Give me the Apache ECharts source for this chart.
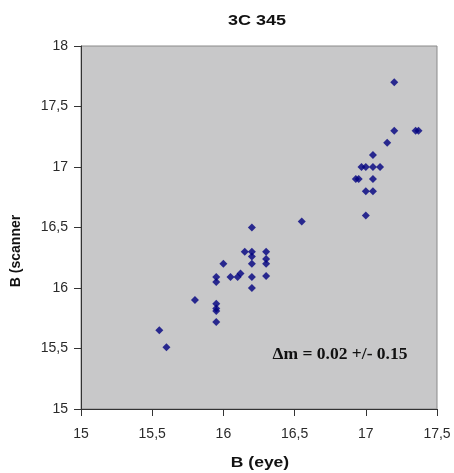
<!DOCTYPE html>
<html>
<head>
<meta charset="utf-8">
<script src="https://cdn.jsdelivr.net/npm/echarts@6/dist/echarts.min.js"></script>
<style>
  html, body { margin: 0; padding: 0; background: #fff; }
  #chart { width: 454px; height: 473px; }
</style>
</head>
<body>
<div id="chart"></div>
<script>
  // B magnitudes: eye estimate vs scanner
  var bEye = [
    15.55, 15.60, 15.80, 15.95, 15.95, 15.95, 15.95, 15.95, 15.95, 16.00,
    16.05, 16.10, 16.12, 16.15, 16.20, 16.20, 16.20, 16.20, 16.20, 16.20,
    16.30, 16.30, 16.30, 16.30, 16.55, 16.93, 16.95, 16.97, 17.00, 17.00,
    17.00, 17.05, 17.05, 17.05, 17.05, 17.10, 17.15, 17.20, 17.20, 17.35,
    17.37
  ]
  var bScanner = [
    15.65, 15.51, 15.90, 15.72, 15.81, 15.83, 15.87, 16.05, 16.09, 16.20,
    16.09, 16.09, 16.12, 16.30, 16.00, 16.09, 16.20, 16.26, 16.30, 16.50,
    16.10, 16.20, 16.24, 16.30, 16.55, 16.90, 16.90, 17.00, 16.60, 16.80,
    17.00, 16.80, 16.90, 17.00, 17.10, 17.00, 17.20, 17.30, 17.70, 17.30,
    17.30
  ]
  var xTicks = ['15', '15,5', '16', '16,5', '17', '17,5']
  var yTicks = ['15', '15,5', '16', '16,5', '17', '17,5', '18']

  var points = bEye.map(function (x, i) { return [x, bScanner[i]] })

  var myChart = echarts.init(document.getElementById('chart'))
  var sans = 'Liberation Sans, Arial, sans-serif'
  var labelFont = { color: '#2a2a2a', fontSize: 14, fontFamily: sans }

  var option = {
    backgroundColor: '#fff',
    animation: false,
    grid: {
      left: 81,
      right: 17,
      top: 46,
      bottom: 64,
      show: true,
      backgroundColor: '#c8c8c9',
      borderColor: '#8a8a8a',
      borderWidth: 1
    },
    xAxis: {
      type: 'value',
      min: 15,
      max: 17.5,
      interval: 0.5,
      splitLine: { show: false },
      axisLine: { show: true, onZero: false, lineStyle: { color: '#333' } },
      axisTick: { show: true, inside: false, length: 7, lineStyle: { color: '#333' } },
      axisLabel: Object.assign({
        margin: 18,
        formatter: function (v) { return xTicks[Math.round((v - 15) / 0.5)] }
      }, labelFont)
    },
    yAxis: {
      type: 'value',
      min: 15,
      max: 18,
      interval: 0.5,
      splitLine: { show: false },
      axisLine: { show: true, onZero: false, lineStyle: { color: '#333' } },
      axisTick: { show: true, inside: false, length: 7, lineStyle: { color: '#333' } },
      axisLabel: Object.assign({
        margin: 13,
        formatter: function (v) { return yTicks[Math.round((v - 15) / 0.5)] }
      }, labelFont)
    },
    graphic: [
      {
        type: 'text',
        x: 257,
        y: 21,
        scaleX: 1.2,
        style: {
          text: '3C 345',
          fill: '#111',
          font: 'bold 15px ' + sans,
          textAlign: 'center',
          textVerticalAlign: 'middle'
        }
      },
      {
        type: 'text',
        x: 260,
        y: 463,
        scaleX: 1.25,
        style: {
          text: 'B (eye)',
          fill: '#111',
          font: 'bold 14px ' + sans,
          textAlign: 'center',
          textVerticalAlign: 'middle'
        }
      },
      {
        type: 'text',
        x: 16,
        y: 251,
        rotation: Math.PI / 2,
        style: {
          text: 'B (scanner',
          fill: '#111',
          font: 'bold 14px ' + sans,
          textAlign: 'center',
          textVerticalAlign: 'middle'
        }
      },
      {
        type: 'text',
        x: 340,
        y: 355,
        scaleX: 1.03,
        style: {
          text: '\u0394m = 0.02 +/- 0.15',
          fill: '#111',
          font: 'bold 17px Liberation Serif, Times New Roman, serif',
          textAlign: 'center',
          textVerticalAlign: 'middle'
        }
      }
    ],
    series: [
      {
        type: 'scatter',
        symbol: 'diamond',
        symbolSize: 8,
        itemStyle: { color: '#000080' },
        data: points
      }
    ]
  }

  myChart.setOption(option)
</script>
</body>
</html>
